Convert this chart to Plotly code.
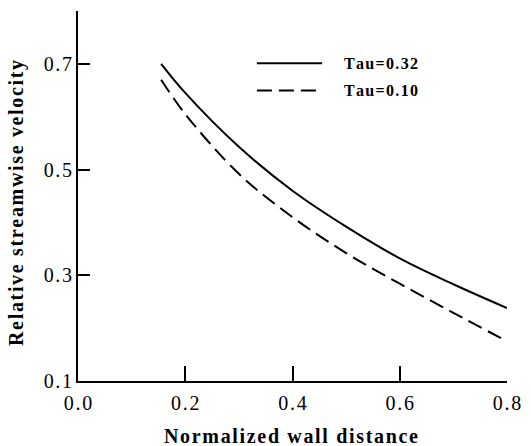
import plotly.graph_objects as go

x_vals = [0.155, 0.2, 0.3, 0.4, 0.5, 0.6, 0.7, 0.8]
tau_032 = [0.700, 0.645, 0.543, 0.460, 0.392, 0.332, 0.283, 0.238]
tau_010 = [0.670, 0.605, 0.492, 0.410, 0.342, 0.284, 0.229, 0.175]
series_names = ["Tau=0.32", "Tau=0.10"]
x_ticks = [0.0, 0.2, 0.4, 0.6, 0.8]
x_tick_text = ["0.0", "0.2", "0.4", "0.6", "0.8"]
y_ticks = [0.1, 0.3, 0.5, 0.7]
y_tick_text = ["0.1", "0.3", "0.5", "0.7"]
x_title = "Normalized wall distance"
y_title = "Relative streamwise velocity"

FONT = "Liberation Serif"
HS = "\u200a"


def spaced(s):
    return HS.join(list(s))


fig = go.Figure()
fig.add_trace(go.Scatter(x=x_vals, y=tau_032, mode="lines", line=dict(color="black", width=2, shape="spline"),
                         name=series_names[0], showlegend=False))
fig.add_trace(go.Scatter(x=x_vals, y=tau_010, mode="lines",
                         line=dict(color="black", width=2, dash="15px,7px", shape="spline"),
                         name=series_names[1], showlegend=False))

# legend drawn manually
leg_y = [0.859, 0.785]
dashes = ["solid", "15px,7px"]
for i, nm in enumerate(series_names):
    fig.add_shape(type="line", xref="paper", yref="paper", x0=0.417, x1=0.569, y0=leg_y[i], y1=leg_y[i],
                  line=dict(color="black", width=2, dash=dashes[i]))
    fig.add_annotation(xref="paper", yref="paper", x=0.615, y=leg_y[i], text="<b>" + spaced(nm) + "</b>",
                       showarrow=False, xanchor="left", yanchor="middle",
                       font=dict(family=FONT, size=16, color="black"))

# axis titles as annotations for exact placement
fig.add_annotation(xref="paper", yref="paper", x=(291 - 78) / 429, y=-(436 - 381) / 370,
                   text="<b>" + spaced(x_title) + "</b>", showarrow=False,
                   xanchor="center", yanchor="middle", font=dict(family=FONT, size=20, color="black"))
fig.add_annotation(xref="paper", yref="paper", x=-(78 - 16) / 429, y=(381 - 203) / 370,
                   text="<b>" + spaced(y_title) + "</b>", showarrow=False, textangle=-90,
                   xanchor="center", yanchor="middle", font=dict(family=FONT, size=20, color="black"))

fig.update_layout(
    width=531, height=446,
    margin=dict(l=78, r=24, t=11, b=65),
    plot_bgcolor="white", paper_bgcolor="white",
    font=dict(family=FONT, size=20, color="black"),
    xaxis=dict(range=[0, 0.8], tickvals=x_ticks, ticktext=[spaced(t) for t in x_tick_text],
               ticks="inside", ticklen=15, ticklabelstandoff=3,
               tickwidth=2, tickcolor="black", showline=True, linecolor="black", linewidth=2,
               showgrid=False, zeroline=False, mirror=False,
               tickfont=dict(family=FONT, size=20)),
    yaxis=dict(range=[0.1, 0.8], tickvals=y_ticks, ticktext=[spaced(t) for t in y_tick_text],
               ticks="inside", ticklen=12,
               tickwidth=2, tickcolor="black", showline=True, linecolor="black", linewidth=2,
               showgrid=False, zeroline=False, mirror=False,
               tickfont=dict(family=FONT, size=20)),
)

fig.write_html("out.html")
